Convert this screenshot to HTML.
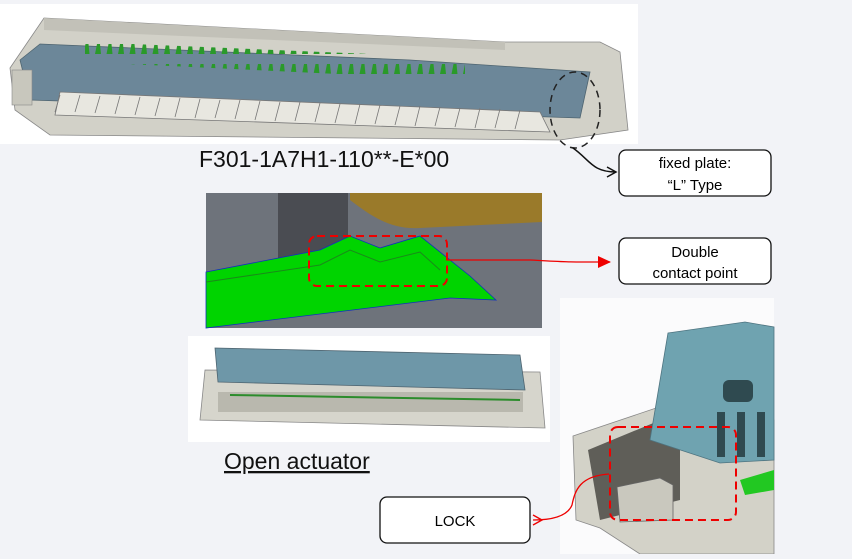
<!DOCTYPE html>
<html><head><style>
body{margin:0;width:852px;height:554px;background:#f2f3f7;overflow:hidden;font-family:"Liberation Sans",sans-serif}
</style></head><body>
<svg width="852" height="554" viewBox="0 0 852 554" xmlns="http://www.w3.org/2000/svg" font-family="Liberation Sans, sans-serif">
<defs><marker id="ab" markerWidth="12" markerHeight="12" refX="10" refY="6" orient="auto" markerUnits="userSpaceOnUse"><path d="M1,1 L10,6 L1,11" fill="none" stroke="#111" stroke-width="1.5"/></marker>
<marker id="ar" markerWidth="14" markerHeight="14" refX="12" refY="7" orient="auto" markerUnits="userSpaceOnUse"><path d="M0,1 L13,7 L0,13z" fill="#e00"/></marker>
<marker id="ar2" markerWidth="12" markerHeight="12" refX="10" refY="6" orient="auto" markerUnits="userSpaceOnUse"><path d="M10,1 L1,6 L10,11" fill="none" stroke="#e00" stroke-width="1.3"/></marker>
<pattern id="pins" width="11.5" height="20" patternUnits="userSpaceOnUse"><path d="M3,14 L5,4 L8,4 L9,14z" fill="#2a9a2a"/></pattern></defs>
<!-- top image -->
<rect x="0" y="4" width="638" height="140" fill="#fff"/>
<polygon points="44,18 505,42 600,42 620,52 628,130 560,140 50,135 15,110 10,68" fill="#d2d1c8" stroke="#888" stroke-width="0.8"/>
<polygon points="44,18 505,42 505,50 44,30" fill="#c2c1b8"/>
<polygon points="20,60 40,44 410,60 590,72 580,118 30,100" fill="#6c8799" stroke="#4e6470" stroke-width="0.8"/>
<polygon points="85,42 465,58 465,80 85,62" fill="url(#pins)"/>
<polygon points="60,92 540,112 550,132 55,115" fill="#e8e7e0" stroke="#777" stroke-width="0.8"/>
<g stroke="#777" stroke-width="0.8"><path d="M60,95 L55,112 M80,95 L75,112 M100,96 L95,113 M120,96 L115,114 M140,97 L135,115 M160,98 L155,116 M180,98 L175,117 M200,99 L195,118 M220,100 L215,118 M240,100 L235,119 M260,101 L255,120 M280,102 L275,121 M300,102 L295,121 M320,103 L315,122 M340,104 L335,123 M360,104 L355,124 M380,105 L375,124 M400,106 L395,125 M420,106 L415,126 M440,107 L435,126 M460,108 L455,127 M480,108 L475,128 M500,109 L495,128 M520,110 L515,129"/></g>
<rect x="12" y="70" width="20" height="35" fill="#c8c7bd" stroke="#888" stroke-width="0.6"/>
<ellipse cx="575" cy="110" rx="25" ry="38" fill="none" stroke="#222" stroke-width="1.5" stroke-dasharray="7,5"/>
<text x="199" y="167" font-size="23" fill="#111">F301-1A7H1-110**-E*00</text>
<path d="M573,148 C590,160 592,172 616,172" fill="none" stroke="#111" stroke-width="1.5" marker-end="url(#ab)"/>
<rect x="619" y="150" width="152" height="46" rx="7" fill="#fff" stroke="#111" stroke-width="1.3"/>
<text x="695" y="168" font-size="15" text-anchor="middle">fixed plate:</text>
<text x="695" y="190" font-size="15" text-anchor="middle">“L” Type</text>
<!-- middle image -->
<rect x="206" y="193" width="336" height="135" fill="#6e737b"/>
<rect x="278" y="193" width="70" height="90" fill="#4a4c52"/>
<path d="M350,193 L542,193 L542,222 L420,228 C390,230 370,215 350,200z" fill="#9a7a2a"/>
<polygon points="206,272 320,250 350,236 380,248 420,236 470,276 496,300 450,298 206,328" fill="#00d400" stroke="#1030c0" stroke-width="0.8"/>
<path d="M206,282 L320,265 L350,250 L380,262 L420,252 L440,270" fill="none" stroke="#1a8a1a" stroke-width="1"/>
<rect x="309" y="236" width="138" height="50" rx="8" fill="none" stroke="#e00" stroke-width="2" stroke-dasharray="8,5"/>
<path d="M447,260 L530,260 C570,262 560,262 610,262" fill="none" stroke="#e00" stroke-width="1.3" marker-end="url(#ar)"/>
<rect x="619" y="238" width="152" height="46" rx="7" fill="#fff" stroke="#111" stroke-width="1.3"/>
<text x="695" y="257" font-size="15" text-anchor="middle">Double</text>
<text x="695" y="278" font-size="15" text-anchor="middle">contact point</text>
<!-- bottom-left image -->
<rect x="188" y="336" width="362" height="106" fill="#fff"/>
<polygon points="205,370 540,372 545,428 200,420" fill="#d6d5cc" stroke="#888" stroke-width="0.8"/>
<polygon points="215,348 520,355 525,390 218,382" fill="#6e97a8" stroke="#4e6470" stroke-width="0.8"/>
<rect x="218" y="392" width="305" height="20" fill="#b9b8ae"/>
<g stroke="#2c8c2c" stroke-width="2"><path d="M230,395 L520,400"/></g>
<text x="224" y="469" font-size="23" fill="#111" text-decoration="underline">Open actuator</text>
<!-- right image -->
<rect x="560" y="298" width="214" height="256" fill="#fbfbfc"/>
<polygon points="573,436 680,400 700,420 774,420 774,554 640,554 600,528 576,520" fill="#d3d2c8" stroke="#888" stroke-width="0.8"/>
<polygon points="588,450 680,412 680,500 600,520" fill="#5f5e58"/>
<polygon points="668,333 745,322 774,327 774,460 720,463 650,440" fill="#6fa3b0" stroke="#4e7480" stroke-width="0.8"/>
<rect x="723" y="380" width="30" height="22" rx="6" fill="#2f4a50"/>
<rect x="717" y="412" width="8" height="45" fill="#2f4a50"/><rect x="737" y="412" width="8" height="45" fill="#2f4a50"/><rect x="757" y="412" width="8" height="45" fill="#2f4a50"/>
<polygon points="617,487 660,478 673,485 673,520 620,522" fill="#c9c8be" stroke="#666" stroke-width="0.8"/>
<polygon points="740,480 774,470 774,490 745,495" fill="#22c822"/>
<rect x="610" y="427" width="126" height="93" rx="8" fill="none" stroke="#e00" stroke-width="2" stroke-dasharray="8,5"/>
<path d="M609,474 C580,476 575,490 572,505 C568,515 555,520 533,520" fill="none" stroke="#e00" stroke-width="1.3" marker-end="url(#ar2)"/>
<rect x="380" y="497" width="150" height="46" rx="7" fill="#fff" stroke="#111" stroke-width="1.3"/>
<text x="455" y="526" font-size="15" text-anchor="middle">LOCK</text>
</svg>
</body></html>
